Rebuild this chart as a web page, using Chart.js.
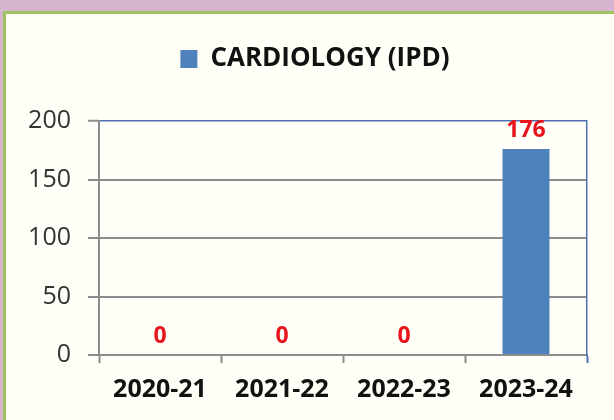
<!DOCTYPE html>
<html>
<head>
<meta charset="utf-8">
<script src="https://cdn.jsdelivr.net/npm/chart.js@4.4.0/dist/chart.umd.min.js"></script>
<style>
  html, body { margin: 0; padding: 0; }
  body { width: 614px; height: 420px; background: #d7b5cf; position: relative; overflow: hidden; }
  #panel { position: absolute; left: 3px; top: 11px; right: 0; bottom: 0;
           border-left: 3px solid #9dc35f; border-top: 3px solid #9dc35f; background: #fffff8; }
  #wrap { position: absolute; left: 0; top: 0; width: 614px; height: 420px; }
</style>
</head>
<body>
<div id="panel"></div>
<div id="wrap"><canvas id="chart" width="614" height="420"></canvas></div>
<script>
var years = ['2020-21', '2021-22', '2022-23', '2023-24'];
var ipd = [0, 0, 0, 176];
var yTicks = [0, 50, 100, 150, 200];

var grey = '#8c8c8c';
var frameBlue = '#4f6fb5';

// red value labels over each bar
var valueLabels = {
  id: 'valueLabels',
  afterDatasetsDraw: function(chart) {
    var ctx = chart.ctx;
    var meta = chart.getDatasetMeta(0);
    ctx.save();
    ctx.font = 'bold 23px "Open Sans"';
    ctx.fillStyle = '#e8141c';
    ctx.textAlign = 'center';
    ctx.textBaseline = 'middle';
    meta.data.forEach(function(bar, i) {
      ctx.fillText(String(chart.data.datasets[0].data[i]), bar.x, bar.y - 19);
    });
    ctx.restore();
  }
};

new Chart(document.getElementById('chart').getContext('2d'), {
  type: 'bar',
  data: {
    labels: years,
    datasets: [{
      label: 'CARDIOLOGY (IPD)',
      data: ipd,
      backgroundColor: '#4f81bd',
      borderWidth: 0,
      barPercentage: 0.385,
      categoryPercentage: 1
    }]
  },
  options: {
    responsive: false,
    animation: false,
    layout: { padding: { top: 36, left: 16, right: 0, bottom: 3 } },
    plugins: {
      tooltip: { enabled: false },
      legend: {
        display: true,
        position: 'top',
        labels: {
          boxWidth: 17,
          boxHeight: 18,
          padding: 10,
          color: '#111',
          font: { family: 'Open Sans', size: 26, weight: 'bold' }
        }
      },
      // empty spacer between legend and plot
      title: {
        display: true,
        text: '',
        weight: 0,
        font: { size: 10 },
        padding: { top: 0, bottom: 27 }
      }
    },
    scales: {
      x: {
        grid: {
          offset: true,
          drawOnChartArea: false,
          drawTicks: true,
          tickLength: 8,
          tickWidth: 2,
          tickColor: function(c) { return c.type === 'scale' ? frameBlue : grey; }
        },
        border: { color: grey, width: 2 },
        ticks: {
          color: '#111',
          padding: 12,
          font: { family: 'Open Sans', size: 25, weight: 'bold' }
        }
      },
      y: {
        min: 0,
        max: 200,
        afterFit: function(scale) { scale.width = 83; },
        afterBuildTicks: function(scale) {
          scale.ticks = yTicks.map(function(v) { return { value: v }; });
        },
        grid: {
          color: function(c) { return c.tick && c.tick.value === 200 ? frameBlue : grey; },
          lineWidth: function(c) { return c.tick && c.tick.value === 200 ? 1.5 : 2; },
          tickColor: grey,
          tickLength: 11,
          tickWidth: 2
        },
        border: { color: grey, width: 2 },
        ticks: {
          color: '#333',
          padding: 17,
          font: { family: 'Open Sans', size: 25 }
        }
      },
      // right edge of the plot frame
      yRight: {
        position: 'right',
        afterFit: function(scale) { scale.width = 27; },
        grid: { drawOnChartArea: false, drawTicks: false },
        ticks: { display: false },
        border: { color: frameBlue, width: 1.5 }
      }
    }
  },
  plugins: [valueLabels]
});
</script>
</body>
</html>
